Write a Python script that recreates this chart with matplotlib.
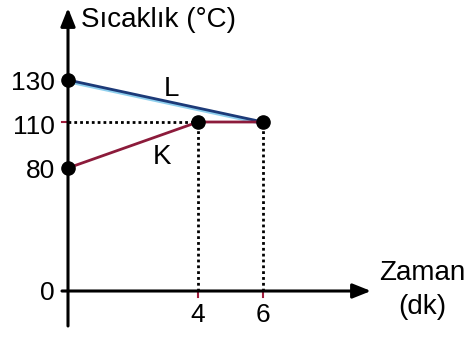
import numpy as np
import matplotlib
matplotlib.use('Agg')
import matplotlib.pyplot as plt
import matplotlib.transforms as mtransforms

plt.rcParams['font.family'] = ['Liberation Sans', 'DejaVu Sans']

# temperature (°C) vs time (min)
t_L = [0, 6]
T_L = [130, 110]
t_K = [0, 4, 6]
T_K = [80, 110, 110]
x_ticks = [4, 6]
y_ticks = [0, 80, 110, 130]

# the temperature axis is not drawn to scale: each labelled level gets its own height
levels = np.array([0, 80, 110, 130], float)
heights = np.array([65, 188, 234, 276], float)  # px from bottom of figure


def fwd(v):
    v = np.asarray(v, float)
    out = np.interp(v, levels, heights)
    s_lo = (heights[1] - heights[0]) / (levels[1] - levels[0])
    s_hi = (heights[-1] - heights[-2]) / (levels[-1] - levels[-2])
    out = np.where(v < levels[0], heights[0] + (v - levels[0]) * s_lo, out)
    out = np.where(v > levels[-1], heights[-1] + (v - levels[-1]) * s_hi, out)
    return out


def inv(h):
    h = np.asarray(h, float)
    out = np.interp(h, heights, levels)
    s_lo = (levels[1] - levels[0]) / (heights[1] - heights[0])
    s_hi = (levels[-1] - levels[-2]) / (heights[-1] - heights[-2])
    out = np.where(h < heights[0], levels[0] + (h - heights[0]) * s_lo, out)
    out = np.where(h > heights[-1], levels[-1] + (h - heights[-1]) * s_hi, out)
    return out


W, H = 470, 356
px = 32.5  # px per minute
x0 = 68


def X(p):
    # x pixel -> minutes
    return (p - x0) / px


def Y(p):
    # y pixel from top -> temperature
    return float(inv(H - p))


fig = plt.figure(figsize=(W / 100, H / 100), dpi=100)
ax = fig.add_axes([0, 0, 1, 1])
ax.set_xlim(X(0), X(W))
ax.set_yscale('function', functions=(fwd, inv))
ax.set_ylim(Y(H), Y(0))
ax.axis('off')

# axes with arrows
head = '-|>,head_length=0.55,head_width=0.22'
ax.annotate('', xy=(0, Y(8)), xytext=(0, Y(326)),
            arrowprops=dict(arrowstyle=head, lw=2.2, color='black',
                            mutation_scale=20, shrinkA=0, shrinkB=0))
ax.annotate('', xy=(X(371), 0), xytext=(X(62), 0),
            arrowprops=dict(arrowstyle=head, lw=2.2, color='black',
                            mutation_scale=20, shrinkA=0, shrinkB=0))

# guide lines
dot = (0, (1, 1.1))
ax.plot([0, x_ticks[0]], [110, 110], color='black', lw=2, ls=dot)
for x in x_ticks:
    ax.plot([x, x], [0, 110], color='black', lw=2, ls=dot)

# small tick marks
for x in x_ticks:
    ax.plot([x, x], [0, Y(297)], color='#a01c3c', lw=1.5)
ax.plot([X(62), 0], [110, 110], color='#a01c3c', lw=1.5)
ax.plot([X(62), 0], [0, 0], color='#a01c3c', lw=1.5)

# series
shift = mtransforms.offset_copy(ax.transData, fig=fig, x=0, y=-1.2, units='points')
ax.plot(t_L, T_L, color='#8fd0ee', lw=2.2, transform=shift, solid_capstyle='butt')
ax.plot(t_L, T_L, color='#1d3a78', lw=2.0, solid_capstyle='butt')
ax.plot(t_K, T_K, color='#8c1b3b', lw=2.0)
ax.plot([0, 0, 4, 6], [130, 80, 110, 110], 'o', color='black', ms=9.5)

# value labels
lab_px = {0: 291, 80: 168, 110: 124, 130: 80}
for v in y_ticks:
    ax.text(X(55), Y(lab_px[v] + 9.5), str(v), ha='right', va='baseline', fontsize=19)
for x in x_ticks:
    ax.text(x, Y(322), str(x), ha='center', va='baseline', fontsize=19)

ax.text(X(81), Y(27), 'Sıcaklık (°C)', ha='left', va='baseline', fontsize=20)
ax.text(X(422), Y(280), 'Zaman', ha='center', va='baseline', fontsize=20)
ax.text(X(422), Y(314), '(dk)', ha='center', va='baseline', fontsize=20)
ax.text(X(171), Y(96), 'L', ha='center', va='baseline', fontsize=20)
ax.text(X(162), Y(164), 'K', ha='center', va='baseline', fontsize=20)

fig.savefig('out.png', dpi=100)
